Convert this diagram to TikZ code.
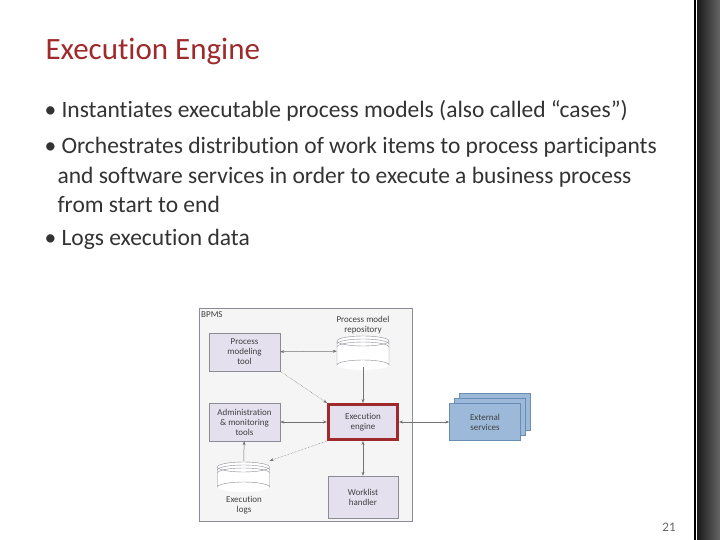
\documentclass[tikz,border=0pt]{standalone}
\usepackage{fontspec}
\setmainfont[Ligatures=NoCommon]{Carlito}
\usetikzlibrary{shapes.geometric,arrows.meta}
\definecolor{titlered}{HTML}{9E2A2B}
\definecolor{boxfill}{HTML}{E4E0EE}
\definecolor{boxline}{HTML}{8C8C96}
\definecolor{ext}{HTML}{9DB9D9}
\definecolor{extline}{HTML}{6A8DB5}
\tikzset{
 tbox/.style={draw=boxline,fill=boxfill,minimum width=71pt,minimum height=38pt,align=center,font=\fontsize{9}{10}\selectfont,text=black!75,inner sep=1pt},
 cyl/.style={minimum width=52pt,minimum height=32pt,inner sep=0pt},
 conn/.style={draw=black!55,line width=0.5pt,-{Stealth[length=4pt,width=3pt]}},
 conn2/.style={conn,{Stealth[length=4pt,width=3pt]}-{Stealth[length=4pt,width=3pt]}},
 lbl/.style={font=\fontsize{9}{10}\selectfont,text=black!75,align=center},
 bul/.style={anchor=west,font=\fontsize{23.5}{28}\selectfont,text=black!80}
}
\newcommand{\mycyl}[4]{% cx, top y, width, height
 \fill[white] (#1-#3/2,#2) rectangle (#1+#3/2,#2+#4);
 \fill[white] (#1,#2+#4) ellipse [x radius=#3/2,y radius=5];
 \draw[boxline] (#1-#3/2,#2) -- (#1-#3/2,#2+#4) arc[start angle=180,end angle=360,x radius=#3/2,y radius=5] -- (#1+#3/2,#2);
 \draw[boxline,fill=white] (#1,#2) ellipse [x radius=#3/2,y radius=5];
 \draw[boxline] (#1-#3/2,#2+3) arc[start angle=180,end angle=360,x radius=#3/2,y radius=5];
 \draw[boxline] (#1-#3/2,#2+6) arc[start angle=180,end angle=360,x radius=#3/2,y radius=5];
}
\begin{document}
\begin{tikzpicture}[x=1pt,y=-1pt]
\useasboundingbox (0,0) rectangle (720,540);
\fill[white] (0,0) rectangle (720,540);
\shade[left color=black!90,right color=black!60] (697,0) rectangle (720,540);
\draw[black,line width=1.2pt] (695,0) -- (695,540);
\node[anchor=west,text=titlered,font=\fontsize{31}{36}\selectfont] (title) at (42,52) {Execution Engine};
\node[bul] (b1) at (41,111) {• Instantiates executable process models (also called “cases”)};
\node[bul] (b2) at (41,147) {• Orchestrates distribution of work items to process participants};
\node[bul] (b2b) at (54,177) {and software services in order to execute a business process};
\node[bul] (b2c) at (54,204) {from start to end};
\node[bul] (b3) at (41,239) {• Logs execution data};
\node[text=black!60,font=\fontsize{13}{15}\selectfont] (pg) at (669,527) {21};
% diagram
\node[draw=boxline,fill=black!4,minimum width=213pt,minimum height=213pt,anchor=north west] (bpms) at (199,308) {};
\node[lbl,anchor=north west,inner sep=2pt] (bl) at (199,309) {BPMS};
\node[tbox] (pmt) at (244.5,352) {Process\\modeling\\tool};
\node[tbox] (adm) at (244.5,422) {Administration\\\& monitoring\\tools};
\mycyl{363}{341}{52}{24}
\node[cyl] (repo) at (363,351) {};
\node[lbl] (repol) at (363,325) {Process model\\repository};
\node[tbox,draw=titlered,line width=3pt,minimum width=69pt,minimum height=35pt] (eng) at (363,422) {Execution\\engine};
\node[tbox,minimum width=70pt,minimum height=42pt] (wl) at (363,497) {Worklist\\handler};
\mycyl{243.5}{467}{52}{20}
\node[cyl,minimum height=30pt] (logs) at (243.5,476) {};
\node[lbl] (logsl) at (244,505) {Execution\\logs};
\node[tbox,fill=ext,draw=extline,minimum width=71pt,minimum height=37pt] (e3) at (495,412) {};
\node[tbox,fill=ext,draw=extline,minimum width=71pt,minimum height=37pt] (e2) at (490,417) {};
\node[tbox,fill=ext,draw=extline,minimum width=71pt,minimum height=37pt] (ext) at (485,422) {External\\services};
\draw[conn2] (pmt) -- (repo);
\draw[conn,densely dotted] (pmt.south east) -- (eng.north west);
\draw[conn] (repo) -- (eng);
\draw[conn2] (adm) -- (eng);
\draw[conn,densely dotted] (eng.south west) -- (logs.north east);
\draw[conn] (logs) -- (adm);
\draw[conn2] (eng) -- (wl);
\draw[conn2] (eng) -- (ext);
\end{tikzpicture}
\end{document}
